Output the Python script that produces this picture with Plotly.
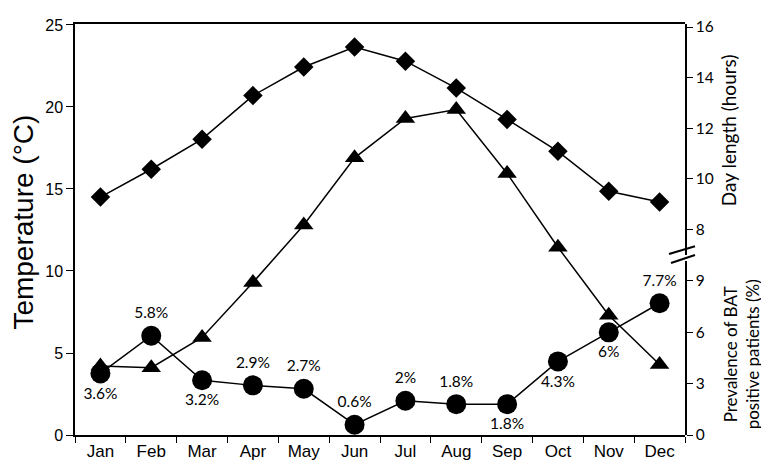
import plotly.graph_objects as go

months = ["Jan", "Feb", "Mar", "Apr", "May", "Jun", "Jul", "Aug", "Sep", "Oct", "Nov", "Dec"]
temperature = [4.2, 4.1, 5.95, 9.3, 12.8, 16.9, 19.3, 19.85, 15.95, 11.45, 7.3, 4.3]
day_length = [9.28, 10.38, 11.57, 13.29, 14.42, 15.21, 14.65, 13.59, 12.35, 11.09, 9.51, 9.09]
prevalence = [3.6, 5.8, 3.2, 2.9, 2.7, 0.6, 2.0, 1.8, 1.8, 4.3, 6.0, 7.7]
prev_labels = ["3.6%", "5.8%", "3.2%", "2.9%", "2.7%", "0.6%", "2%", "1.8%", "1.8%", "4.3%", "6%", "7.7%"]
label_pos = ["bottom center", "top center", "bottom center", "top center", "top center", "top center",
             "top center", "top center", "bottom center", "bottom center", "bottom center", "top center"]

ARIAL = "Liberation Sans, Arial, sans-serif"
CAL = "Lato, Open Sans, sans-serif"

fig = go.Figure()
fig.add_trace(go.Scatter(x=months, y=temperature, mode="lines+markers", yaxis="y",
                         line=dict(color="black", width=1.5),
                         marker=dict(symbol="triangle-up", size=17, color="black"),
                         showlegend=False, cliponaxis=False))
fig.add_trace(go.Scatter(x=months, y=day_length, mode="lines+markers", yaxis="y2",
                         line=dict(color="black", width=1.5),
                         marker=dict(symbol="diamond", size=15, color="black"),
                         showlegend=False, cliponaxis=False))
fig.add_trace(go.Scatter(x=months, y=prevalence, mode="lines+markers+text", yaxis="y3",
                         line=dict(color="black", width=1.5),
                         marker=dict(symbol="circle", size=20, color="black"),
                         text=prev_labels, textposition=label_pos,
                         textfont=dict(family=CAL, size=15.5, color="black"),
                         showlegend=False, cliponaxis=False))

# paper geometry
H_PLOT = 418
W_PLOT = 610
day_bottom = (427 - 244) / H_PLOT
prev_top = (427 - 250) / H_PLOT

fig.update_layout(
    width=769, height=467,
    margin=dict(l=67, r=92, t=9, b=40),
    plot_bgcolor="rgba(0,0,0,0)", paper_bgcolor="white",
    xaxis=dict(type="category", tickson="boundaries", ticks="outside", ticklen=6,
               tickcolor="black", showline=True, linecolor="black", linewidth=1.5,
               mirror=True, showgrid=False, tickfont=dict(family=ARIAL, size=17, color="black"),
               range=[-0.5, 11.5]),
    yaxis=dict(range=[0, 25.06], tickvals=[0, 5, 10, 15, 20, 25], ticks="outside", ticklen=7,
               tickcolor="black", showline=True, linecolor="black", linewidth=1.5,
               showgrid=False, zeroline=False,
               tickfont=dict(family=ARIAL, size=16, color="black")),
    yaxis2=dict(domain=[day_bottom, 1], range=[6.99, 16.12], tickvals=[8, 10, 12, 14, 16],
                anchor="x", side="right", ticks="outside", ticklen=6, tickcolor="black",
                showline=True, linecolor="black", linewidth=1.5, showgrid=False, zeroline=False,
                tickfont=dict(family=CAL, size=15.5, color="black")),
    yaxis3=dict(domain=[0, prev_top], range=[0, 10.17], tickvals=[0, 3, 6, 9],
                anchor="x", side="right", ticks="outside", ticklen=6, tickcolor="black",
                showline=True, linecolor="black", linewidth=1.5, showgrid=False, zeroline=False,
                tickfont=dict(family=CAL, size=15.5, color="black")),
    annotations=[
        dict(text="Temperature (°C)", xref="paper", yref="paper", x=(16 - 67) / W_PLOT,
             y=(427 - 211) / H_PLOT, textangle=-90, showarrow=False,
             font=dict(family=ARIAL, size=28, color="black"), xanchor="center", yanchor="middle"),
        dict(text="Day length (hours)", xref="paper", yref="paper", x=(720 - 67) / W_PLOT,
             y=(427 - 117) / H_PLOT, textangle=-90, showarrow=False,
             font=dict(family=CAL, size=19, color="black"), xanchor="center", yanchor="middle"),
        dict(text="Prevalence of BAT<br>positive patients (%)", xref="paper", yref="paper",
             x=(733 - 67) / W_PLOT, y=(427 - 345) / H_PLOT, textangle=-90, showarrow=False,
             font=dict(family=CAL, size=17, color="black"), xanchor="center", yanchor="middle"),
    ],
    shapes=[
        dict(type="line", xref="paper", yref="paper", x0=(661 - 67) / W_PLOT, x1=(687 - 67) / W_PLOT,
             y0=(427 - 243) / H_PLOT, y1=(427 - 235) / H_PLOT, line=dict(color="black", width=2)),
        dict(type="line", xref="paper", yref="paper", x0=(663 - 67) / W_PLOT, x1=(687 - 67) / W_PLOT,
             y0=(427 - 252) / H_PLOT, y1=(427 - 244) / H_PLOT, line=dict(color="black", width=2)),
    ],
)

fig.write_html("out.html")
